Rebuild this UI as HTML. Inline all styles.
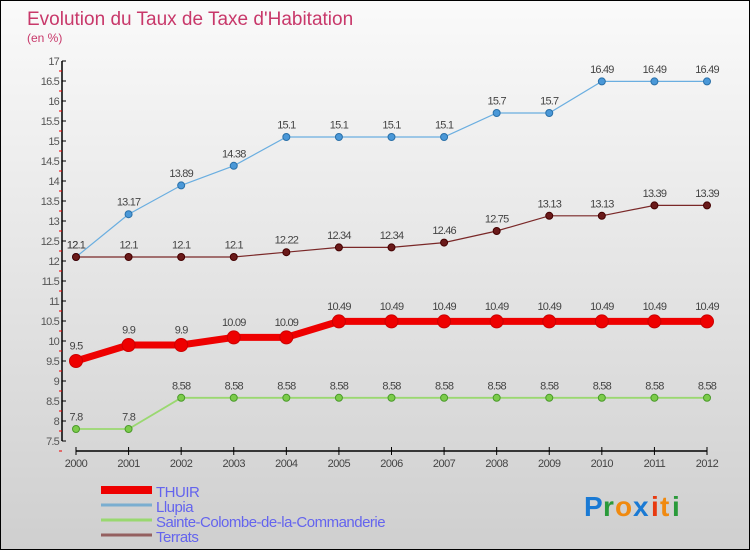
<!DOCTYPE html>
<html><head><meta charset="utf-8"><style>
html,body{margin:0;padding:0}
body{width:750px;height:550px;overflow:hidden;font-family:"Liberation Sans",sans-serif}
#wrap{position:relative;width:748px;height:548px;border:1px solid #000;background:linear-gradient(#fafafa,#cfcfcf)}
</style></head><body>
<div id="wrap">
<svg id="chart" width="748" height="548" xmlns="http://www.w3.org/2000/svg" style="position:absolute;left:0;top:0">
<text x="26" y="24" font-size="19" fill="#c8386a">Evolution du Taux de Taxe d'Habitation</text>
<text x="26" y="41" font-size="12" fill="#c8386a">(en %)</text>
<g id="axes"></g><g id="series"></g><g id="legend"></g>
<g font-size="28" font-weight="bold">
<text x="583" y="515" fill="#1a7ad4">P</text><text x="602" y="515" fill="#2a9a3a">r</text><text x="614" y="515" fill="#f08a10">o</text><text x="632" y="515" fill="#1a7ad4">x</text><text x="650" y="515" fill="#e83a10">i</text><text x="659" y="515" fill="#f08a10">t</text><text x="671" y="515" fill="#2a9a3a">i</text>
</g>
</svg>
</div>
<script>
const years = [2000,2001,2002,2003,2004,2005,2006,2007,2008,2009,2010,2011,2012];
const thuir = [9.5,9.9,9.9,10.09,10.09,10.49,10.49,10.49,10.49,10.49,10.49,10.49,10.49];
const llupia = [12.1,13.17,13.89,14.38,15.1,15.1,15.1,15.1,15.7,15.7,16.49,16.49,16.49];
const sainte = [7.8,7.8,8.58,8.58,8.58,8.58,8.58,8.58,8.58,8.58,8.58,8.58,8.58];
const terrats = [12.1,12.1,12.1,12.1,12.22,12.34,12.34,12.46,12.75,13.13,13.13,13.39,13.39];
const yTicks = [7.5,8,8.5,9,9.5,10,10.5,11,11.5,12,12.5,13,13.5,14,14.5,15,15.5,16,16.5,17];
const seriesNames = ["THUIR","Llupia","Sainte-Colombe-de-la-Commanderie","Terrats"];

const NS="http://www.w3.org/2000/svg";
function x(i){return 75+i*(706-75)/(years.length-1);}
function y(v){return 440-(v-7.5)*40;}
function mk(tag,attrs,parent){const e=document.createElementNS(NS,tag);for(const k in attrs)e.setAttribute(k,attrs[k]);parent.appendChild(e);return e;}
const axes=document.getElementById('axes'),ser=document.getElementById('series'),leg=document.getElementById('legend');

const ya=mk('line',{x1:61,x2:61,y1:y(17),y2:y(7.5),stroke:'#000','stroke-width':1.5},axes);


yTicks.forEach(v=>{
  mk('line',{x1:61,x2:65,y1:y(v),y2:y(v),stroke:'#000'},axes);
  mk('line',{x1:58,x2:61,y1:y(v)+10,y2:y(v)+10,stroke:'#e00'},axes);
  const t=mk('text',{x:58,y:y(v)+4,'font-size':11,'text-anchor':'end',fill:'#555','letter-spacing':'-0.8'},axes);
  t.textContent=String(v);
  
  
});
const xa=mk('line',{x1:x(0),x2:x(years.length-1),y1:450,y2:450,stroke:'#000','stroke-width':1.5},axes);


years.forEach((yr,i)=>{
  mk('line',{x1:x(i),x2:x(i),y1:446,y2:454,stroke:'#000'},axes);
  const t=mk('text',{x:x(i),y:466,'font-size':11,'text-anchor':'middle',fill:'#444','letter-spacing':'-0.5'},axes);
  t.textContent=String(yr);
  
  
});

function drawSeries(vals,name,lineColor,ptColor,ptStroke,lw,r,labelFmt){
  const g=mk('g',{},ser);
  
  
  const pl=mk('polyline',{points:vals.map((v,i)=>x(i)+','+y(v)).join(' '),fill:'none',stroke:lineColor,'stroke-width':lw},g);
  
  
  vals.forEach((v,i)=>{
    const c=mk('circle',{cx:x(i),cy:y(v),r:r,fill:ptColor,stroke:ptStroke,'stroke-width':1},g);
    
    
    const t=mk('text',{x:x(i),y:y(v)-r-5,'font-size':11,'text-anchor':'middle',fill:'#444','letter-spacing':'-0.8'},g);
    t.textContent=String(v);
    
    
  });
}
drawSeries(llupia,'llupia','#6aaee0','#4a98d8','#2a70a8',1.2,3.5);
drawSeries(terrats,'terrats','#7a2828','#6a1a1a','#400',1.2,3.5);
drawSeries(sainte,'sainte-colombe','#9ad870','#7ccc4a','#4a9a2a',1.8,3.5);
drawSeries(thuir,'thuir','#ee0000','#ee0000','#c00',7,6.5);

const legColors=['#ee0000','#7aaed0','#99d870','#946060'];
const legW=[8,3,3,3];
seriesNames.forEach((n,i)=>{
  const yy=493+i*15;
  const l=mk('line',{x1:100,x2:151,y1:yy-4,y2:yy-4,stroke:legColors[i],'stroke-width':legW[i]},leg);
  
  
  const t=mk('text',{x:155,y:yy+3,'font-size':15,fill:'#6464ee','letter-spacing':'-0.5'},leg);
  t.textContent=n;
  
  
});
</script>
</body></html>
